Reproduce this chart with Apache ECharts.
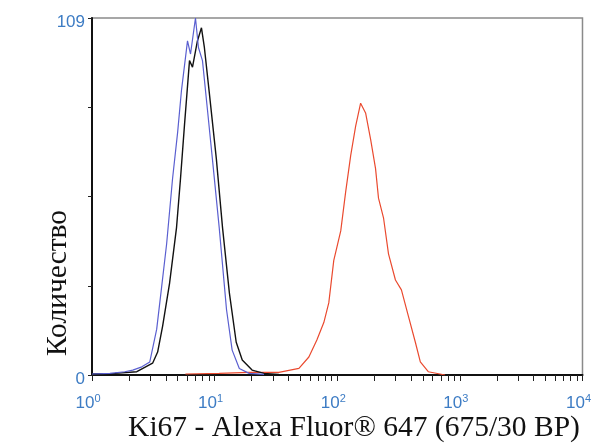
<!DOCTYPE html>
<html><head><meta charset="utf-8">
<script src="https://cdn.jsdelivr.net/npm/echarts@6/dist/echarts.min.js"></script>
<style>html,body{margin:0;padding:0;background:#fff}#c{width:594px;height:445px}</style>
</head><body><div id="c"></div>
<script>
// Fluorescence intensity (linear units, plotted on log axis) and event counts
var blueX = [1, 1.40, 1.85, 2.15, 2.55, 2.96, 3.37, 3.70, 4.06, 4.54, 4.99, 5.37, 6.01, 6.36, 6.98, 7.38, 7.96, 8.74, 9.59, 10.9, 12.5, 13.9, 15.9, 19.1, 25.3];
var blueY = [0.3, 0.5, 1, 1.5, 2.5, 4, 14, 27, 40, 60, 74, 87, 102, 98, 109, 100, 96, 81, 66, 45, 20, 7.6, 2, 0.5, 0.2];
var blackX = [1, 1.54, 2.32, 3.12, 3.43, 3.77, 4.29, 4.89, 5.27, 5.67, 6.24, 6.60, 7.24, 7.81, 8.25, 9.06, 10.33, 11.6, 13.2, 15.0, 16.8, 20.2, 25.3, 33.4];
var blackY = [0.3, 0.5, 1, 3.6, 7, 15, 28, 45, 60, 76, 96, 94, 102, 106, 100, 86, 66, 45, 25, 10, 4.6, 1.5, 0.5, 0.2];
var redX = [5.78, 10.9, 19.1, 33.4, 48.7, 58.7, 68.2, 77.7, 85.3, 93.7, 106.8, 117.2, 128.7, 141.3, 155.1, 170.3, 187, 205.3, 217, 238.4, 261.8, 298.3, 333.7, 380.3, 433.5, 475.9, 552.6, 758];
var redY = [0.3, 0.5, 0.8, 0.8, 2, 5.5, 10.7, 16, 22, 35, 44, 56, 67, 76, 83, 80, 72, 63, 54, 48, 37, 29, 26, 18, 10, 4, 1, 0];
var xTickLabels = [1, 10, 100, 1000, 10000];
var xExponents = ['0', '1', '2', '3', '4'];
var yTickLabels = [0, 109];
var xTitle = 'Ki67 - Alexa Fluor® 647 (675/30 BP)';
var yTitle = 'Количество';

function pairs(xs, ys) { return xs.map(function (x, i) { return [x, ys[i]]; }); }
var minorTicks = [];
for (var d = 1; d < 10000; d *= 10) { for (var k = 1; k < 10; k++) minorTicks.push(d * k); }
minorTicks.push(10000);

var chart = echarts.init(document.getElementById('c'), null, { renderer: 'canvas' });
var labelColor = '#3d7cc4';
chart.setOption({
  animation: false,
  backgroundColor: '#fff',
  grid: { left: 92, right: 9, top: 18, bottom: 70, show: true, borderColor: '#8a8a8a', borderWidth: 1.5, backgroundColor: 'transparent' },
  xAxis: {
    type: 'log', logBase: 10, min: 1, max: 10000,
    axisLine: { show: true, lineStyle: { color: '#111', width: 2 } },
    axisTick: { show: true, customValues: minorTicks, length: 6, lineStyle: { color: '#222', width: 1 } },
    minorTick: { show: false },
    splitLine: { show: false },
    axisLabel: {
      customValues: xTickLabels, margin: 18, color: labelColor, fontFamily: 'Liberation Sans, Arial', fontSize: 17,
      padding: [0, 8, 0, 0],
      formatter: function (v) { var i = xTickLabels.indexOf(Math.round(v)); return '{b|10}{s|' + xExponents[i] + '}'; },
      rich: { b: { fontSize: 17, color: labelColor, fontFamily: 'Liberation Sans' }, s: { fontSize: 11, color: labelColor, fontFamily: 'Liberation Sans', padding: [0, 0, 9, 0] } }
    }
  },
  yAxis: {
    type: 'value', min: 0, max: 109, interval: 27.25,
    axisLine: { show: true, lineStyle: { color: '#111', width: 2 } },
    axisTick: { show: true, length: 4, lineStyle: { color: '#222' } },
    splitLine: { show: false },
    axisLabel: {
      margin: 7, color: labelColor, fontFamily: 'Liberation Sans, Arial', fontSize: 17,
      formatter: function (v) { return yTickLabels.indexOf(v) >= 0 ? '{v|' + v + '}' : ''; },
      rich: { v: { fontSize: 17, color: labelColor, fontFamily: 'Liberation Sans', padding: [9, 0, 0, 0] } }
    }
  },
  graphic: [
    { type: 'text', x: 354, y: 428, style: { text: xTitle, x: 0, y: 0, align: 'center', verticalAlign: 'middle', font: '29.5px "Liberation Serif", "Times New Roman", serif', fill: '#111' } },
    { type: 'text', x: 58, y: 283, rotation: Math.PI / 2, style: { text: yTitle, x: 0, y: 0, align: 'center', verticalAlign: 'middle', font: '29.5px "Liberation Serif", "Times New Roman", serif', fill: '#111' } }
  ],
  series: [
    { type: 'line', data: pairs(redX, redY), showSymbol: false, lineStyle: { color: '#ea4a2f', width: 1.2 }, z: 2 },
    { type: 'line', data: pairs(blackX, blackY), showSymbol: false, lineStyle: { color: '#111', width: 1.4 }, z: 3 },
    { type: 'line', data: pairs(blueX, blueY), showSymbol: false, lineStyle: { color: '#5a5fd0', width: 1.2 }, z: 4 }
  ]
});
</script></body></html>
